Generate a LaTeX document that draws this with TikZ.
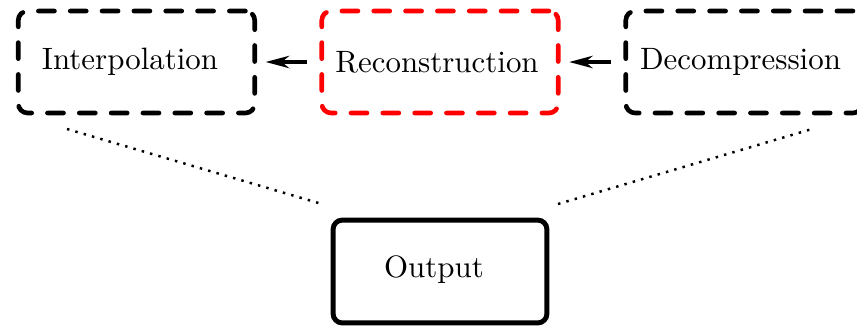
\documentclass[tikz,border=0pt]{standalone}
\usetikzlibrary{arrows.meta}
\begin{document}
\begin{tikzpicture}[x=0.3236pt, y=-0.3236pt,
  stagebox/.style={draw, line width=1.5pt, rounded corners=3pt,
    minimum width=76.5pt, minimum height=33pt, inner sep=0pt},
  dashbox/.style={stagebox, dash pattern=on 5.2pt off 5.1pt, line cap=round},
  label/.style={inner sep=0pt, font=\normalsize},
  flow/.style={line width=1.1pt, -{Stealth[length=7.6pt,width=4pt,inset=2.4pt]},
    shorten >=2.8pt, shorten <=4pt},
  link/.style={thick, dotted}]
  \useasboundingbox (0,0) rectangle (857,326);

  % pipeline stages
  \node[dashbox] (interp) at (136.5,62) {};
  \node[dashbox, draw=red] (recon) at (440,62) {};
  \node[dashbox] (decomp) at (744,62) {};
  \node[stagebox, line width=1.6pt, minimum width=69.2pt, minimum height=33.3pt] (out) at (440,271.5) {};

  \node[label] (tinterp) at (130,62) {Interpolation};
  \node[label] (trecon) at (437,62) {Reconstruction};
  \node[label] (tdecomp) at (740.5,62) {Decompression};
  \node[label] (tout) at (434,270) {Output};

  % data flow
  \draw[flow] (recon.west) -- (interp.east);
  \draw[flow] (decomp.west) -- (recon.east);

  % ends of the dotted links
  \coordinate (a1) at (67,129);
  \coordinate (a2) at (322,204);
  \coordinate (b1) at (558,204);
  \coordinate (b2) at (812,129);
  \draw[link] (a1) -- (a2);
  \draw[link] (b1) -- (b2);
\end{tikzpicture}
\end{document}
